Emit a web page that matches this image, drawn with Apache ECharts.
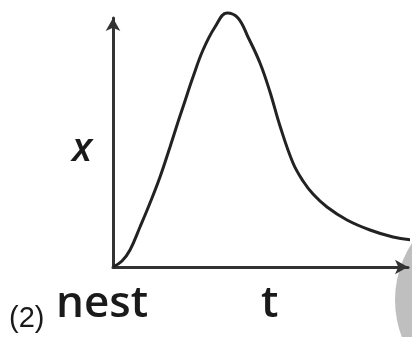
<!DOCTYPE html>
<html>
<head>
    <meta charset="utf-8">
    <title>nest</title>
    <script src="https://cdn.jsdelivr.net/npm/echarts@6/dist/echarts.min.js"></script>
    <style>
        html, body, #main {
            width: 100%;
            height: 100%;
            margin: 0;
            background: #fff;
        }
    </style>
</head>
<body>
    <div id="main"></div>
    <script type="text/javascript">
        // curve: time and distance x
        var tValues = [0, 9, 17, 27, 37, 47, 57, 65, 70, 80, 90, 102, 114, 125, 135, 147, 157, 167, 180, 190, 200, 214, 234, 257, 280, 299];
        var xValues = [0, 6, 17, 40, 64, 90, 120, 145, 160, 190, 217, 240, 254, 249, 230, 204, 175, 141, 104, 86, 73, 60, 47, 37, 30, 27];
        var axisNames = ['t', 'x'];
        var originLabel = 'nest';
        var panelLabel = '(2)';

        var points = [];
        for (var i = 0; i < tValues.length; i++) {
            points.push([tValues[i], xValues[i]]);
        }

        var myChart = echarts.init(document.getElementById('main'));
        var option = {
            animation: false,
            grid: { left: 113, right: 4, top: 18, bottom: 70 },
            xAxis: {
                type: 'value', min: 0, max: 295,
                axisLine: { lineStyle: { color: '#333', width: 3 }, symbol: ['none', 'arrow'], symbolSize: [11, 13] },
                axisTick: { show: false }, axisLabel: { show: false }, splitLine: { show: false }
            },
            yAxis: {
                type: 'value', min: 0, max: 249,
                axisLine: { show: true, lineStyle: { color: '#333', width: 3 }, symbol: ['none', 'arrow'], symbolSize: [11, 13] },
                axisTick: { show: false }, axisLabel: { show: false }, splitLine: { show: false }
            },
            graphic: [
                { type: 'circle', shape: { cx: 499, cy: 300, r: 104 }, style: { fill: '#bfbfbf' }, z: -1 },
                { type: 'text', left: 72, top: 130, style: { text: axisNames[1], font: 'italic 600 40px "Open Sans"', fill: '#1a1a1a' } },
                { type: 'text', left: 56, top: 282, style: { text: originLabel, font: '600 44px "Open Sans"', fill: '#1a1a1a' } },
                { type: 'text', left: 261, top: 282, style: { text: axisNames[0], font: '600 44px "Open Sans"', fill: '#1a1a1a' } },
                { type: 'text', left: 9, top: 304, style: { text: panelLabel, font: '29px "Liberation Sans"', fill: '#1a1a1a' } }
            ],
            series: [{
                type: 'line',
                data: points,
                smooth: 0.4,
                clip: false,
                showSymbol: false,
                lineStyle: { color: '#222', width: 3 }
            }]
        };
        myChart.setOption(option);
        window.onresize = myChart.resize;
    </script>
</body>
</html>
